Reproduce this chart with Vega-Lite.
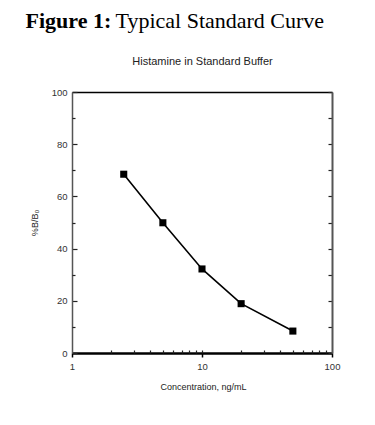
{
  "$schema": "https://vega.github.io/schema/vega-lite/v6.json",
  "autosize": {"type": "none"},
  "padding": {"left": 72, "top": 92, "right": 43, "bottom": 72},
  "width": 260,
  "height": 261,
  "background": "white",
  "config": {
    "view": {"stroke": null},
    "axis": {"grid": false, "labelFont": "Liberation Sans", "titleFont": "Liberation Sans", "labelColor": "#333", "titleColor": "#222", "titleFontWeight": "normal"}
  },
  "data": {
    "values": [
      {"conc": 2.5, "pct": 68.5},
      {"conc": 5, "pct": 49.9},
      {"conc": 10, "pct": 32.2},
      {"conc": 20, "pct": 18.9},
      {"conc": 50, "pct": 8.4}
    ]
  },
  "resolve": {"axis": {"x": "independent", "y": "independent"}},
  "layer": [
    {
      "mark": {"type": "line", "color": "black", "strokeWidth": 1.6},
      "encoding": {
        "x": {
          "field": "conc", "type": "quantitative",
          "scale": {"type": "log", "domain": [1, 100], "nice": false},
          "axis": {
            "orient": "bottom", "values": [1, 10, 100], "format": "d",
            "tickSize": 4, "tickColor": "black", "tickWidth": 1.5,
            "domainColor": "black", "domainWidth": 2.5,
            "labelFontSize": 9.5, "labelPadding": 4, "labelFlush": false,
            "title": "Concentration, ng/mL", "titleFontSize": 9,
            "titleX": 131, "titleY": 36, "titleBaseline": "alphabetic", "titleAlign": "center"
          }
        },
        "y": {
          "field": "pct", "type": "quantitative",
          "scale": {"domain": [0, 100], "nice": false},
          "axis": {
            "orient": "left", "values": [0, 20, 40, 60, 80, 100],
            "tickSize": -5, "tickColor": "#222", "tickWidth": 1.2,
            "domainColor": "#555", "domainWidth": 1.5,
            "labelFontSize": 9.5, "labelPadding": 10, "labelFlush": false,
            "title": "%B/B₀", "titleFontSize": 9, "titlePadding": 12
          }
        }
      }
    },
    {
      "mark": {"type": "point", "shape": "square", "filled": true, "color": "black", "size": 50, "opacity": 1},
      "encoding": {
        "x": {
          "field": "conc", "type": "quantitative",
          "axis": {
            "orient": "bottom", "values": [2, 3, 4, 5, 6, 7, 8, 9, 10, 20, 30, 40, 50, 60, 70, 80, 90],
            "tickSize": -3, "tickColor": "#222", "tickWidth": 1.2,
            "labels": false, "domain": false, "title": null
          }
        },
        "y": {
          "field": "pct", "type": "quantitative",
          "axis": {
            "orient": "left", "values": [10, 30, 50, 70, 90],
            "tickSize": -3, "tickColor": "#222", "tickWidth": 1.2,
            "labels": false, "domain": false, "title": null
          }
        }
      }
    },
    {
      "mark": {"type": "point", "opacity": 0},
      "encoding": {
        "x": {
          "field": "conc", "type": "quantitative",
          "axis": {
            "orient": "top", "ticks": false, "labels": false,
            "domainColor": "black", "domainWidth": 1.5,
            "title": "Histamine in Standard Buffer", "titleFontSize": 11,
            "titleX": 130, "titleY": -28, "titleBaseline": "alphabetic", "titleAlign": "center"
          }
        },
        "y": {
          "field": "pct", "type": "quantitative",
          "axis": {
            "orient": "right", "values": [0, 10, 20, 30, 40, 50, 60, 70, 80, 90, 100],
            "tickSize": -4, "tickColor": "#222", "tickWidth": 1.2,
            "labels": false, "domainColor": "#555", "domainWidth": 2, "title": null
          }
        }
      }
    },
    {
      "mark": {"type": "point", "opacity": 0},
      "encoding": {
        "x": {
          "field": "conc", "type": "quantitative",
          "axis": {
            "orient": "top", "ticks": false, "labels": false, "domain": false,
            "title": "Typical Standard Curve", "titleFont": "Liberation Serif", "titleFontSize": 22,
            "titleColor": "black", "titleFontWeight": "normal",
            "titleX": 43, "titleY": -65, "titleBaseline": "alphabetic", "titleAlign": "left"
          }
        },
        "y": {"field": "pct", "type": "quantitative", "axis": null}
      }
    },
    {
      "mark": {"type": "point", "opacity": 0},
      "encoding": {
        "x": {
          "field": "conc", "type": "quantitative",
          "axis": {
            "orient": "top", "ticks": false, "labels": false, "domain": false,
            "title": "Figure 1:", "titleFont": "Liberation Serif", "titleFontSize": 22,
            "titleColor": "black", "titleFontWeight": "bold",
            "titleX": -47, "titleY": -65, "titleBaseline": "alphabetic", "titleAlign": "left"
          }
        },
        "y": {"field": "pct", "type": "quantitative", "axis": null}
      }
    }
  ]
}
